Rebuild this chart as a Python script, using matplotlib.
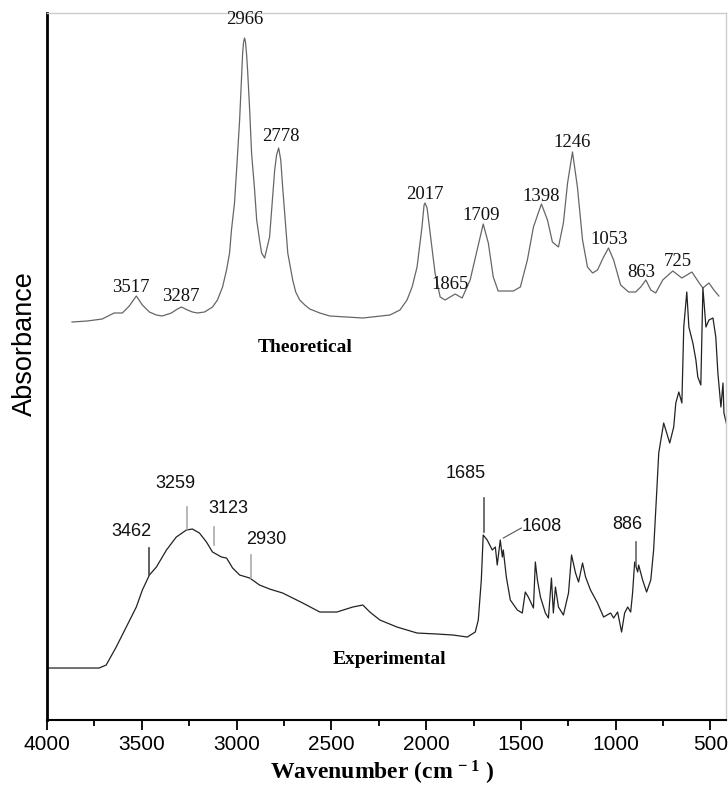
import matplotlib
matplotlib.use('Agg')
import matplotlib.pyplot as plt
from matplotlib.ticker import MultipleLocator

plt.rcParams['mathtext.fontset'] = 'custom'
plt.rcParams['mathtext.rm'] = 'Liberation Serif:bold'
plt.rcParams['mathtext.default'] = 'rm'

# theoretical spectrum (wavenumber, absorbance a.u.)
theo_wn = [3868, 3788, 3709, 3646, 3603, 3566, 3529, 3497, 3460, 3423, 3392, 3344, 3312,
           3291, 3259, 3233, 3207, 3169, 3127, 3101, 3074, 3053, 3037, 3027, 3011, 3000,
           2984, 2968, 2963, 2958, 2953, 2947, 2942, 2931, 2921, 2905, 2894, 2879, 2868,
           2852, 2826, 2799, 2789, 2778, 2767, 2757, 2730, 2704, 2688, 2667, 2640, 2614,
           2561, 2508, 2334, 2191, 2138, 2101, 2074, 2048, 2022, 2011, 2006, 1995, 1979,
           1953, 1926, 1900, 1847, 1810, 1768, 1731, 1699, 1672, 1646, 1620, 1540, 1503,
           1466, 1434, 1392, 1360, 1334, 1302, 1276, 1254, 1228, 1202, 1175, 1149, 1122,
           1096, 1064, 1038, 1011, 974, 932, 895, 868, 841, 815, 789, 752, 699, 651, 598,
           556, 540, 508, 482, 456]
theo_abs = [3.98, 3.99, 4.01, 4.07, 4.07, 4.14, 4.24, 4.15, 4.08, 4.05, 4.04, 4.07, 4.11,
            4.13, 4.10, 4.08, 4.07, 4.08, 4.13, 4.20, 4.33, 4.50, 4.67, 4.90, 5.17, 5.50,
            6.00, 6.67, 6.78, 6.82, 6.78, 6.65, 6.50, 6.10, 5.67, 5.30, 5.00, 4.80, 4.67,
            4.62, 4.83, 5.50, 5.65, 5.72, 5.60, 5.33, 4.67, 4.40, 4.28, 4.20, 4.15, 4.11,
            4.07, 4.04, 4.02, 4.05, 4.10, 4.20, 4.33, 4.53, 4.93, 5.15, 5.17, 5.12, 4.87,
            4.47, 4.23, 4.20, 4.26, 4.22, 4.40, 4.70, 4.96, 4.77, 4.43, 4.29, 4.29, 4.33,
            4.60, 4.93, 5.16, 5.00, 4.78, 4.73, 4.97, 5.37, 5.68, 5.33, 4.80, 4.53, 4.47,
            4.50, 4.63, 4.72, 4.60, 4.35, 4.28, 4.28, 4.33, 4.40, 4.30, 4.27, 4.40, 4.49,
            4.42, 4.48, 4.36, 4.32, 4.37, 4.30, 4.24]

# experimental spectrum
exp_wn = [3989, 3725, 3688, 3635, 3582, 3529, 3497, 3460, 3423, 3370, 3318, 3265, 3233,
          3196, 3159, 3127, 3080, 3053, 3021, 2984, 2931, 2879, 2826, 2757, 2651, 2561,
          2471, 2387, 2334, 2297, 2244, 2154, 2048, 1942, 1858, 1783, 1741, 1725, 1709,
          1699, 1678, 1651, 1635, 1625, 1609, 1598, 1593, 1577, 1556, 1519, 1493, 1477,
          1461, 1434, 1424, 1413, 1397, 1371, 1355, 1339, 1329, 1318, 1302, 1276, 1249,
          1233, 1212, 1196, 1175, 1159, 1133, 1096, 1064, 1027, 1011, 990, 969, 953, 937,
          921, 911, 900, 884, 879, 858, 837, 815, 800, 784, 773, 747, 731, 715, 694, 683,
          667, 651, 641, 625, 614, 593, 577, 567, 551, 540, 524, 508, 487, 472, 461, 445,
          434, 429, 408]
exp_abs = [0.52, 0.52, 0.55, 0.73, 0.93, 1.13, 1.30, 1.45, 1.53, 1.70, 1.83, 1.90, 1.91,
           1.87, 1.78, 1.68, 1.63, 1.62, 1.52, 1.45, 1.42, 1.35, 1.31, 1.27, 1.17, 1.08,
           1.08, 1.13, 1.15, 1.08, 1.00, 0.93, 0.87, 0.86, 0.85, 0.83, 0.88, 1.00, 1.40,
           1.85, 1.80, 1.70, 1.73, 1.55, 1.80, 1.63, 1.70, 1.43, 1.20, 1.10, 1.07, 1.28,
           1.23, 1.12, 1.58, 1.40, 1.23, 1.07, 1.02, 1.42, 1.07, 1.33, 1.13, 1.05, 1.27,
           1.65, 1.47, 1.38, 1.57, 1.43, 1.30, 1.17, 1.03, 1.07, 1.02, 1.08, 0.88, 1.07, 1.13,
           1.08, 1.27, 1.58, 1.48, 1.55, 1.40, 1.28, 1.40, 1.70, 2.27, 2.67, 2.97, 2.87, 2.77,
           2.93, 3.17, 3.28, 3.17, 3.93, 4.28, 3.93, 3.77, 3.60, 3.43, 3.35, 4.32, 3.93,
           4.00, 4.02, 3.83, 3.47, 3.13, 3.37, 3.07, 2.90]

# peak labels: (text, x, y)
theo_labels = ['2966', '2778', '3517', '3287', '2017', '1865', '1709', '1398', '1246',
               '1053', '863', '725']
theo_lx = [2958, 2767, 3556, 3296, 2006, 1873, 1709, 1392, 1228, 1032, 863, 673]
theo_ly = [7.00, 5.83, 4.33, 4.24, 5.25, 4.36, 5.04, 5.23, 5.77, 4.80, 4.48, 4.58]

exp_labels = ['3462', '3259', '3123', '2930', '1685', '1608', '886']
exp_lx = [3556, 3323, 3042, 2841, 1789, 1392, 937]
exp_ly = [1.89, 2.37, 2.12, 1.81, 2.47, 1.94, 1.96]

# marker ticks on the experimental curve: x, y0, y1, colour
mark_x = [3460, 3259, 3117, 2926, 1693, 895]
mark_y0 = [1.45, 1.91, 1.75, 1.42, 1.88, 1.54]
mark_y1 = [1.72, 2.13, 1.93, 1.65, 2.22, 1.78]
mark_c = ['#444444', '#aaaaaa', '#aaaaaa', '#aaaaaa', '#555555', '#666666']

fig = plt.figure(figsize=(7.28, 7.87), dpi=100)
ax = fig.add_axes([0.0646, 0.0851, 0.9327, 0.8984])

ax.plot(theo_wn, theo_abs, color='#666666', lw=0.9)
ax.plot(exp_wn, exp_abs, color='#222222', lw=0.9)

for x, y0, y1, c in zip(mark_x, mark_y0, mark_y1, mark_c):
    ax.plot([x, x], [y0, y1], color=c, lw=1.2)
ax.plot([1593, 1498], [1.82, 1.92], color='#555555', lw=0.8)

for t, x, y in zip(theo_labels, theo_lx, theo_ly):
    ax.text(x, y, t, ha='center', va='center', fontsize=13.5,
            family='Liberation Serif', color='#111111')
for t, x, y in zip(exp_labels, exp_lx, exp_ly):
    ax.text(x, y, t, ha='center', va='center', fontsize=13,
            family='Liberation Sans', color='#111111')

ax.text(2640, 3.73, 'Theoretical', ha='center', va='center', fontsize=14,
        family='Liberation Serif', weight='bold')
ax.text(2191, 0.61, 'Experimental', ha='center', va='center', fontsize=14,
        family='Liberation Serif', weight='bold')

ax.set_xlim(4000, 418)
ax.set_ylim(0, 7.07)
ax.set_yticks([])
ax.xaxis.set_major_locator(MultipleLocator(500))
ax.xaxis.set_minor_locator(MultipleLocator(250))
ax.tick_params(axis='x', which='major', direction='out', length=7, width=1.3,
               labelsize=15, pad=4)
ax.tick_params(axis='x', which='minor', direction='out', length=4, width=1.3)
for lab in ax.get_xticklabels():
    lab.set_family('Liberation Sans')

ax.spines['left'].set_linewidth(2)
ax.spines['bottom'].set_linewidth(1.5)
for s in ['top', 'right']:
    ax.spines[s].set_color('#cccccc')
    ax.spines[s].set_linewidth(1)

fig.text(382 / 728, 1 - 780 / 787, 'Wavenumber (cm$^{\\,-1}$ )', ha='center', va='baseline',
         fontsize=17, family='Liberation Serif', weight='bold')
fig.text(25 / 728, 1 - 344 / 787, 'Absorbance', ha='center', va='center', rotation=90,
         fontsize=19.5, family='Liberation Sans')

plt.savefig('out.png', dpi=100)
